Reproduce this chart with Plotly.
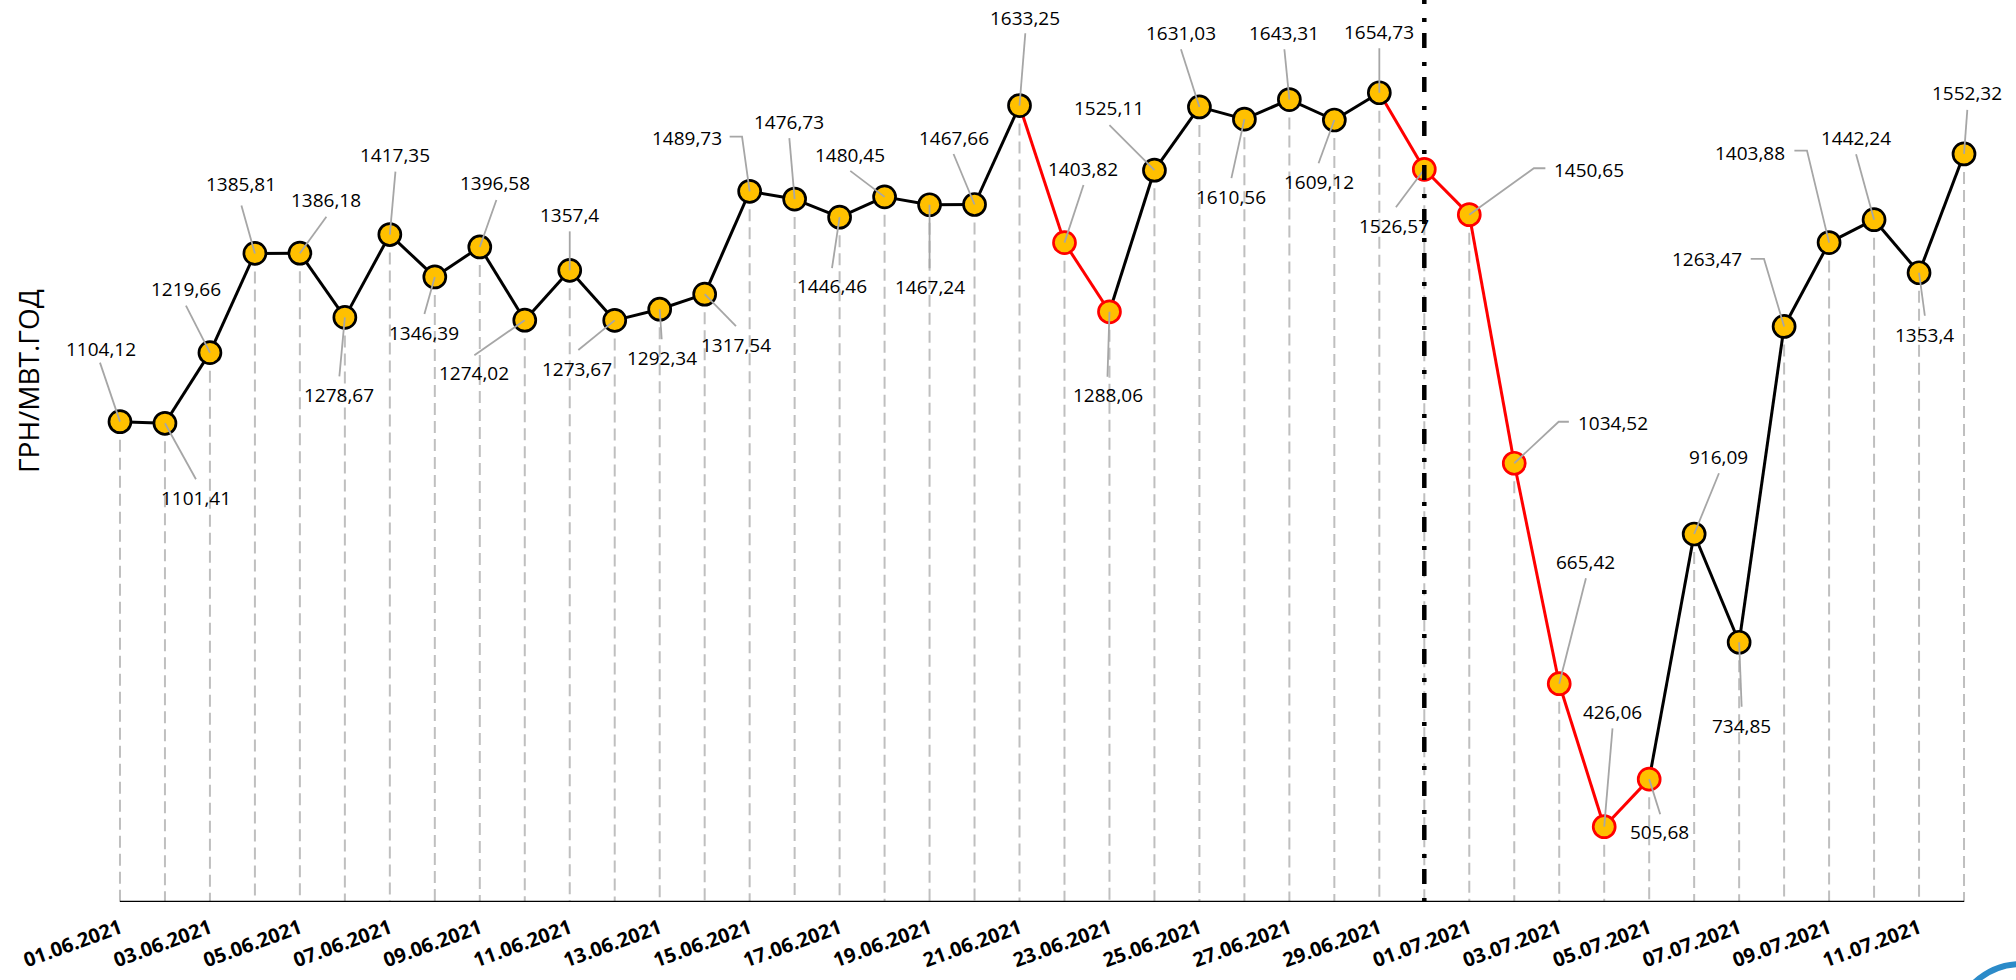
import plotly.graph_objects as go

# ---------------- data ----------------
DATES = [
    "01.06.2021", "02.06.2021", "03.06.2021", "04.06.2021", "05.06.2021", "06.06.2021",
    "07.06.2021", "08.06.2021", "09.06.2021", "10.06.2021", "11.06.2021", "12.06.2021",
    "13.06.2021", "14.06.2021", "15.06.2021", "16.06.2021", "17.06.2021", "18.06.2021",
    "19.06.2021", "20.06.2021", "21.06.2021", "22.06.2021", "23.06.2021", "24.06.2021",
    "25.06.2021", "26.06.2021", "27.06.2021", "28.06.2021", "29.06.2021", "30.06.2021",
    "01.07.2021", "02.07.2021", "03.07.2021", "04.07.2021", "05.07.2021", "06.07.2021",
    "07.07.2021", "08.07.2021", "09.07.2021", "10.07.2021", "11.07.2021", "12.07.2021",
]
PRICES = [
    1104.12, 1101.41, 1219.66, 1385.81, 1386.18, 1278.67, 1417.35, 1346.39, 1396.58, 1274.02,
    1357.4, 1273.67, 1292.34, 1317.54, 1489.73, 1476.73, 1446.46, 1480.45, 1467.24, 1467.66,
    1633.25, 1403.82, 1288.06, 1525.11, 1631.03, 1610.56, 1643.31, 1609.12, 1654.73, 1526.57,
    1450.65, 1034.52, 665.42, 426.06, 505.68, 916.09, 734.85, 1263.47, 1403.88, 1442.24,
    1353.4, 1552.32,
]
HIGHLIGHTED_DATES = ["22.06.2021", "23.06.2021", "30.06.2021", "01.07.2021",
                     "02.07.2021", "03.07.2021", "04.07.2021", "05.07.2021"]
SPLIT_DATE = "30.06.2021"
TICK_LABELS = DATES[::2]
Y_TITLE = "ГРН/МВТ.ГОД"

# ---------------- label placement (pixel offsets from each point) ----------------
LABEL_OFF = [
    (-19, -73), (31, 75), (-24, -64), (-13.5, -69), (26, -53), (-5.5, 78), (5, -80), (-10.6, 56), (15.6, -64), (-51, 53),
    (0, -55), (-37.5, 49), (2, 49), (31, 51), (-63, -53), (-5.3, -77.4), (-7.6, 69), (-34.3, -42), (0, 82.5), (-21, -67),
    (5.8, -87.3), (19, -73.6), (-1, 83), (-45, -62), (-18.5, -74), (-13, 77.5), (-5, -67), (-15.8, 61.7), (0, -60.5), (-30, 56.4),
    (120, -44.7), (98.4, -40), (26.7, -122), (8.3, -114.4), (10.7, 53.2), (24, -77.3), (2.5, 83.5), (-77.2, -67.2), (-79.5, -90), (-18, -82),
    (5.4, 62), (2.6, -61.3),
]
LEAD_END = [
    (-20, -59), (31, 56), (-24, -47), (-13.5, -48), (26.5, -36.5), (-5.5, 59), (5.6, -63), (-10.4, 37), (16.6, -47), (-50.4, 35),
    (0, -39), (-36.4, 29.6), (2, 30), (31.3, 32), (-20, -54.6), (-5.3, -61), (-7.6, 51), (-34.3, -26), (0, 63.5), (-21, -50.5),
    (5.8, -72.3), (19, -57.6), (-2, 65), (-45, -45), (-18.5, -57.6), (-13, 59), (-5, -50.3), (-15.8, 43.3), (0, -44.5), (-28.4, 38),
    (76.1, -46.4), (54.6, -41.5), (26.7, -105.4), (8.3, -98.4), (11, 35.2), (24.8, -60.7), (2.5, 64.5), (-33.4, -67.5), (-34.7, -92), (-18, -65.4),
    (5.8, 43), (3.3, -44),
]
ELBOWS = {14: (-7.6, -54.6), 30: (64.6, -46.4), 31: (44.4, -41.5), 37: (-20.1, -67.5), 38: (-22.1, -92)}

# ---------------- geometry / style ----------------
W, H = 2016, 980
N = len(DATES)
X = list(range(N))
X_LO, X_HI = -1, N          # one spare step each side so leaders are not clipped
PX_PER_X = 1844 / (N - 1)
ML = round(120 - PX_PER_X)
MR = W - ML - round(PX_PER_X * (X_HI - X_LO))
MT, MB = 0, 78
Y_MIN, Y_MAX = 300, 1810
PW, PH = W - ML - MR, H - MT - MB
PX_PER_X = PW / (X_HI - X_LO)
VAL_PER_PX = (Y_MAX - Y_MIN) / PH

YELLOW = "#FFC000"
RED = "#FF0000"
BLACK = "#000000"
FONT = "Open Sans"

hl = [d in HIGHLIGHTED_DATES for d in DATES]

fig = go.Figure()

# drop lines
dx_, dy_ = [], []
for i in X:
    dx_ += [i, i, None]
    dy_ += [PRICES[i], Y_MIN, None]
fig.add_trace(go.Scatter(x=dx_, y=dy_, mode="lines", hoverinfo="skip",
                         line=dict(color="#BFBFBF", width=2, dash="12px,6px"), showlegend=False))

# line segments coloured by end point
for color, flag in ((BLACK, False), (RED, True)):
    sx, sy = [], []
    for i in range(1, N):
        if hl[i] == flag:
            sx += [i - 1, i, None]
            sy += [PRICES[i - 1], PRICES[i], None]
    fig.add_trace(go.Scatter(x=sx, y=sy, mode="lines", line=dict(color=color, width=3),
                             hoverinfo="skip", showlegend=False))

# markers
fig.add_trace(go.Scatter(
    x=X, y=PRICES, mode="markers", showlegend=False, cliponaxis=False,
    marker=dict(size=22, color=YELLOW,
                line=dict(width=2.7, color=[RED if h else BLACK for h in hl])),
))

# leader lines
lx, ly = [], []
for i in X:
    xs = [i]
    ys = [PRICES[i]]
    if i in ELBOWS:
        ex, ey = ELBOWS[i]
        xs.append(i + ex / PX_PER_X)
        ys.append(PRICES[i] - ey * VAL_PER_PX)
    ex, ey = LEAD_END[i]
    xs.append(i + ex / PX_PER_X)
    ys.append(PRICES[i] - ey * VAL_PER_PX)
    lx += xs + [None]
    ly += ys + [None]
fig.add_trace(go.Scatter(x=lx, y=ly, mode="lines", line=dict(color="#A6A6A6", width=1.8),
                         hoverinfo="skip", showlegend=False))

# data labels
for i in X:
    ox, oy = LABEL_OFF[i]
    fig.add_annotation(x=i, y=PRICES[i], text=str(PRICES[i]).replace(".", ","),
                       showarrow=False, xshift=ox, yshift=-oy,
                       xanchor="center", yanchor="middle",
                       font=dict(family=FONT, size=19, color=BLACK))

# x axis baseline (spans first to last date only)
fig.add_shape(type="line", xref="x", yref="y", x0=0, x1=N - 1, y0=Y_MIN, y1=Y_MIN,
              line=dict(color=BLACK, width=2.5), layer="above")

# vertical dash-dot separator
split_i = DATES.index(SPLIT_DATE)
fig.add_shape(type="line", xref="x", yref="paper", x0=split_i, x1=split_i,
              y0=1 + 11 / PH, y1=0,
              line=dict(color=BLACK, width=4.5, dash="15px,14px,4px,11px"), layer="above")

# y title
fig.add_annotation(xref="paper", yref="paper", x=(28 - ML) / PW, y=(H - MB - 381) / PH,
                   text=Y_TITLE, textangle=-90, showarrow=False,
                   xanchor="center", yanchor="middle",
                   font=dict(family=FONT, size=28, color=BLACK))

# partial logo circle in the corner
cx, cy, r = 2022, 1034, 70
fig.add_shape(type="circle", xref="paper", yref="paper",
              x0=(cx - r - ML) / PW, x1=(cx + r - ML) / PW,
              y0=(H - MB - (cy + r)) / PH, y1=(H - MB - (cy - r)) / PH,
              line=dict(color="#2B8BC9", width=6))

fig.update_layout(
    width=W, height=H,
    margin=dict(l=ML, r=MR, t=MT, b=MB, pad=0, autoexpand=False),
    paper_bgcolor="white", plot_bgcolor="white",
    font=dict(family=FONT, color=BLACK),
    xaxis=dict(range=[X_LO, X_HI], tickmode="array", tickvals=X[::2], ticktext=TICK_LABELS,
               tickangle=-20, ticklabelstandoff=10,
               tickfont=dict(family=FONT, size=20, color=BLACK, weight="bold"),
               showline=False, showgrid=False, zeroline=False, ticks="", fixedrange=True),
    yaxis=dict(range=[Y_MIN, Y_MAX], visible=False, showgrid=False, zeroline=False, fixedrange=True),
    showlegend=False,
)

fig.write_html("out.html", config={"displayModeBar": False},
               post_script="document.body.style.margin='0px';")
